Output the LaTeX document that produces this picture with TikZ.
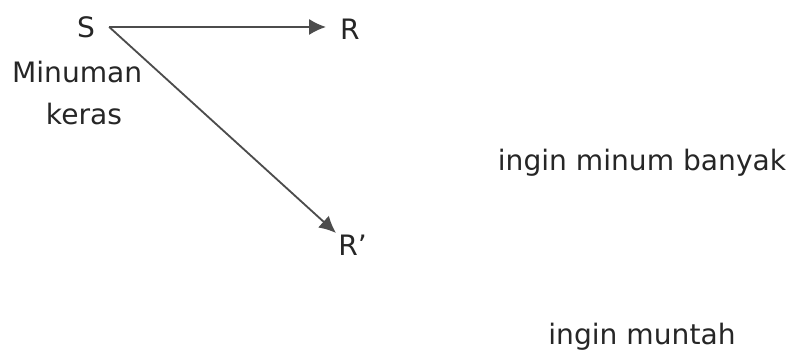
\documentclass[tikz,border=0pt]{standalone}
\usepackage{fontspec}
\setmainfont{DejaVu Sans}
\usetikzlibrary{arrows.meta, positioning}

\begin{document}
\begin{tikzpicture}[>={Latex[length=4.2mm,width=4mm]}, font=\fontsize{20}{23}\selectfont, text=black!85]
	\useasboundingbox (0,0) rectangle (20,8.875);
	
	% --- Reiz und Reaktionen ---
	\node[inner sep=0.35cm] (S) at (2.15,8.2) {S};
	\node[inner sep=0.35cm] (R) at (8.75,8.15) {R};
	\node[inner sep=0.05cm, anchor=north west] (Rp) at (8.4,3.05) {R’};
	
	% Beschriftung des Reizes
	\node (minuman) at (1.93,7.075) {Minuman};
	\node (keras) at (2.1,6.025) {keras};
	
	% --- Pfeile ---
	\draw[->, line width=1.3pt, black!70] (S.east) -- (S.east -| R.west);
	\draw[->, line width=1.3pt, black!70] (S.east) -- (Rp.north west);
	
	% --- Bedeutungen ---
	\node (banyak) at (16.05,4.8) {ingin minum banyak};
	\node (muntah) at (16.05,0.45) {ingin muntah};
	
\end{tikzpicture}
\end{document}
